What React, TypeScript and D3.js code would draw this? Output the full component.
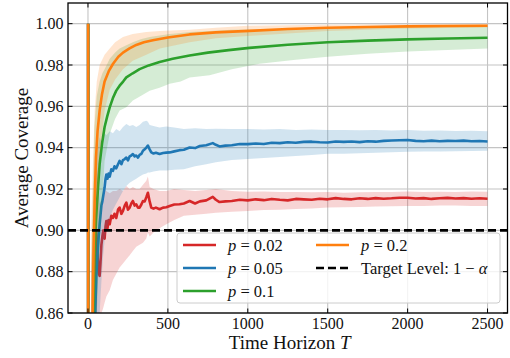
import React from 'react';
import * as d3 from 'd3';

// ---------- data ----------
const X_TICKS = [0, 500, 1000, 1500, 2000, 2500];
const Y_TICKS = [0.86, 0.88, 0.9, 0.92, 0.94, 0.96, 0.98, 1.0];
const TARGET = 0.9;

const TIME_FINE = [1,2,10,20,30,40,46,52,57,62,68,73,78,84,90,96,104,110,115,122,129,136,146,156,166,177,188,198,209,219,230,240,250,261,271,281,292,302,313,323,334,344,355,365,375,386,396,410,425,448,470,490,511,540,573,600,636,670,700,740,781,800,823,860,900,950,1000,1050,1100,1150,1200,1250,1300,1350,1400,1450,1500,1550,1600,1650,1700,1750,1800,1850,1900,1950,2000,2050,2100,2150,2200,2250,2300,2350,2400,2450,2500];

const RED_MEAN = [1.0,0.5,0.62,0.74,0.80,0.845,0.87,0.899,0.893,0.885,
  0.879,0.878,0.884,0.893,0.897,0.900,0.896,0.902,0.9045,0.901,
  0.905,0.903,0.907,0.906,0.908,0.906,0.910,0.911,0.908,0.9094,
  0.912,0.9134,0.910,0.911,0.913,0.9142,0.912,0.9126,0.911,0.911,
  0.9125,0.9142,0.914,0.916,0.9182,0.914,0.911,0.9105,0.911,0.9102,
  0.911,0.9112,0.9118,0.9125,0.9126,0.913,0.9142,0.913,0.914,0.9145,
  0.9162,0.9148,0.9137,0.914,0.9142,0.9148,0.9145,0.915,0.9146,0.9152,
  0.9148,0.9145,0.9152,0.915,0.9148,0.9153,0.915,0.9156,0.9152,0.915,
  0.9155,0.9152,0.9156,0.9153,0.9155,0.9158,0.9158,0.9154,0.9156,0.9152,
  0.9155,0.9157,0.9154,0.9156,0.9153,0.9155,0.9153];

const BLUE_MEAN = [1.0,0.5,0.64,0.74,0.80,0.845,0.862,0.877,0.885,0.891,
  0.898,0.903,0.907,0.912,0.914,0.917,0.9207,0.925,0.927,0.925,
  0.9275,0.926,0.9295,0.9288,0.931,0.930,0.932,0.9336,0.932,0.934,
  0.9345,0.9352,0.9338,0.9358,0.9362,0.9369,0.9358,0.9362,0.9352,0.9365,
  0.937,0.9385,0.9392,0.940,0.941,0.9392,0.9377,0.9372,0.9375,0.9369,
  0.9374,0.9376,0.9377,0.9382,0.9388,0.939,0.9401,0.9398,0.9408,0.9412,
  0.9422,0.9414,0.9406,0.941,0.9412,0.9418,0.9417,0.942,0.9418,0.9424,
  0.9422,0.9426,0.9424,0.9428,0.9429,0.9426,0.9425,0.943,0.9428,0.943,
  0.9427,0.9431,0.9429,0.9433,0.9435,0.9436,0.9437,0.9433,0.9431,0.9434,
  0.9431,0.9433,0.9432,0.9434,0.9431,0.9432,0.943];

const TIME_BAND = [1,2,20,40,52,62,73,84,94,104,115,136,156,177,198,219,240,261,281,302,323,344,365,375,386,410,448,490,540,600,670,740,800,900,1000,1100,1200,1300,1400,1500,1600,1700,1800,1900,2000,2100,2200,2300,2400,2500];

const RED_LO = [1.0,0.4,0.6,0.75,0.80,0.83,0.845,0.86,0.862,0.865,
  0.868,0.871,0.876,0.879,0.882,0.884,0.886,0.888,0.890,0.892,
  0.893,0.894,0.896,0.899,0.897,0.899,0.901,0.903,0.905,0.907,
  0.9075,0.908,0.9085,0.909,0.9094,0.9098,0.910,0.9103,0.9106,0.911,
  0.9112,0.9113,0.9115,0.9116,0.9118,0.9118,0.912,0.912,0.9118,0.9118];
const RED_HI = [1.0,0.6,0.88,0.92,0.935,0.925,0.913,0.915,0.918,0.92,
  0.919,0.918,0.919,0.919,0.92,0.919,0.9215,0.92,0.921,0.92,
  0.92,0.922,0.924,0.926,0.921,0.92,0.919,0.919,0.92,0.9195,
  0.919,0.9195,0.92,0.919,0.9187,0.9188,0.9185,0.9186,0.9184,0.9185,
  0.9182,0.9184,0.9186,0.9185,0.9188,0.9186,0.9187,0.9186,0.9188,0.9187];

const BLUE_LO = [1.0,0.4,0.63,0.77,0.81,0.84,0.86,0.875,0.887,0.895,
  0.90,0.906,0.910,0.913,0.916,0.919,0.9215,0.923,0.924,0.925,
  0.926,0.927,0.9275,0.928,0.928,0.9285,0.929,0.929,0.9293,0.9296,
  0.931,0.932,0.933,0.934,0.9345,0.935,0.9355,0.936,0.9365,0.937,
  0.937,0.9373,0.9376,0.9378,0.938,0.9381,0.9382,0.9383,0.9384,0.9385];
const BLUE_HI = [1.0,0.6,0.85,0.91,0.935,0.94,0.945,0.943,0.946,0.947,
  0.946,0.948,0.947,0.949,0.948,0.950,0.9515,0.9505,0.951,0.950,
  0.951,0.9525,0.953,0.9525,0.951,0.9505,0.9498,0.9502,0.9498,0.949,
  0.9494,0.949,0.9492,0.949,0.949,0.9488,0.949,0.9486,0.9488,0.9485,
  0.9486,0.9484,0.9486,0.9483,0.9485,0.9482,0.9483,0.9481,0.9482,0.948];

const TIME_GREEN = [1,2,10,20,28,33,40,50,63,73,88,104,120,136,156,177,198,220,240,280,323,380,448,530,636,750,880,1010,1250,1500,1750,2000,2250,2500];
const GREEN_MEAN = [1.0,0.5,0.62,0.75,0.83,0.86,0.885,0.905,0.921,0.932,
  0.942,0.95,0.955,0.9595,0.964,0.9676,0.970,0.972,0.974,0.976,
  0.978,0.9798,0.9814,0.983,0.9846,0.986,0.9872,0.9883,0.9898,0.991,
  0.9918,0.9924,0.9928,0.9932];
const TIME_GREEN_BAND = [1,2,20,40,55,73,90,104,136,170,198,240,281,330,386,448,511,580,636,761,900,1073,1300,1500,1750,2000,2250,2500];
const GREEN_LO = [1.0,0.4,0.6,0.80,0.86,0.895,0.915,0.9336,0.9467,0.954,
  0.958,0.9595,0.9628,0.965,0.9676,0.969,0.9709,0.972,0.974,0.975,
  0.978,0.9806,0.9825,0.984,0.9855,0.9865,0.9872,0.988];
const GREEN_HI = [1.0,0.6,0.88,0.95,0.965,0.972,0.976,0.978,0.983,0.986,
  0.988,0.9895,0.991,0.9925,0.9935,0.9943,0.995,0.9955,0.996,0.9965,
  0.997,0.9972,0.9976,0.998,0.9982,0.9984,0.9985,0.9987];

const TIME_ORANGE = [1,2,10,20,28,35,42,50,60,73,88,104,130,157,190,219,260,302,350,406,500,636,800,1010,1250,1500,1750,2000,2250,2500];
const ORANGE_MEAN = [1.0,0.5,0.70,0.80,0.855,0.89,0.915,0.935,0.948,0.958,
  0.966,0.972,0.977,0.9806,0.984,0.986,0.988,0.9897,0.991,0.992,
  0.9933,0.9948,0.9958,0.9965,0.9974,0.998,0.9984,0.9987,0.9989,0.999];
const TIME_ORANGE_BAND = [1,2,20,30,42,55,73,104,136,170,219,280,365,450,636,800,1000,1500,2000,2500];
const ORANGE_HI = [1.0,0.6,0.9,0.93,0.958,0.972,0.98,0.985,0.988,0.991,
  0.9935,0.995,0.996,0.9965,0.997,0.998,0.999,0.9995,0.9997,0.9998];
const ORANGE_LO = [1.0,0.4,0.70,0.78,0.87,0.90,0.935,0.958,0.968,0.973,
  0.978,0.982,0.985,0.988,0.991,0.993,0.994,0.9965,0.9977,0.9982];

const P_LABELS = ['0.02', '0.05', '0.1', '0.2'];
const COLORS = ['#d62728', '#1f77b4', '#2ca02c', '#ff7f0e'];

const SERIES = [
  { p: P_LABELS[0], color: COLORS[0], t: TIME_FINE, mean: RED_MEAN, bt: TIME_BAND, lo: RED_LO, hi: RED_HI },
  { p: P_LABELS[1], color: COLORS[1], t: TIME_FINE, mean: BLUE_MEAN, bt: TIME_BAND, lo: BLUE_LO, hi: BLUE_HI },
  { p: P_LABELS[2], color: COLORS[2], t: TIME_GREEN, mean: GREEN_MEAN, bt: TIME_GREEN_BAND, lo: GREEN_LO, hi: GREEN_HI },
  { p: P_LABELS[3], color: COLORS[3], t: TIME_ORANGE, mean: ORANGE_MEAN, bt: TIME_ORANGE_BAND, lo: ORANGE_LO, hi: ORANGE_HI },
];

// ---------- layout ----------
const W = 510, H = 358;
const L = 68, R = 507.5, T = 3, B = 313;
const FONT = '"Liberation Serif"';

export default function App() {
  const x = d3.scaleLinear().domain([-125, 2625]).range([L, R]);
  const y = d3.scaleLinear().domain([0.86, 1.01]).range([B, T]);

  const line = (ts: number[], vs: number[]) =>
    d3.line<number>().x((_, i) => x(ts[i])).y((v) => y(v))(vs) || '';
  const area = (ts: number[], lo: number[], hi: number[]) =>
    d3.area<number>().x((_, i) => x(ts[i])).y0((_, i) => y(lo[i])).y1((_, i) => y(hi[i]))(ts) || '';

  const tickLen = 4.5;
  const legendRows = [
    { kind: 's', idx: 0, col: 0, row: 0 },
    { kind: 's', idx: 1, col: 0, row: 1 },
    { kind: 's', idx: 2, col: 0, row: 2 },
    { kind: 's', idx: 3, col: 1, row: 0 },
    { kind: 't', idx: -1, col: 1, row: 1 },
  ];
  const lgX = 177, lgY = 233, lgW = 323, lgH = 70;
  const colX = [183, 316];
  const rowY = [245, 268, 291];
  const txt: React.CSSProperties = { fontFamily: FONT };

  return (
    <svg width={W} height={H} style={{ position: 'absolute', left: 0, top: 0, background: '#fff', fontFamily: FONT }}>
      <defs>
        <clipPath id="plot"><rect x={L} y={T} width={R - L} height={B - T} /></clipPath>
      </defs>
      <rect x={0} y={0} width={W} height={H} fill="#fff" />
      {/* grid */}
      <g stroke="#c4c4c4" strokeWidth={1.1}>
        {X_TICKS.map((t) => <line key={'gx' + t} x1={x(t)} x2={x(t)} y1={T} y2={B} />)}
        {Y_TICKS.map((t) => <line key={'gy' + t} x1={L} x2={R} y1={y(t)} y2={y(t)} />)}
      </g>
      <g clipPath="url(#plot)">
        {SERIES.map((s) => (
          <g key={s.p}>
            <path d={area(s.bt, s.lo, s.hi)} fill={s.color} fillOpacity={0.2} stroke="none" />
            <path d={line(s.t, s.mean)} fill="none" stroke={s.color} strokeWidth={2.6} strokeLinejoin="round" />
          </g>
        ))}
        <line x1={L} x2={R} y1={y(TARGET)} y2={y(TARGET)} stroke="#000" strokeWidth={2.6} strokeDasharray="8,4" />
      </g>
      {/* spines */}
      <rect x={L} y={T} width={R - L} height={B - T} fill="none" stroke="#000" strokeWidth={1.3} />
      {/* ticks */}
      <g stroke="#000" strokeWidth={1}>
        {X_TICKS.map((t) => (
          <g key={'tx' + t}>
            <line x1={x(t)} x2={x(t)} y1={B} y2={B - tickLen} />
            <line x1={x(t)} x2={x(t)} y1={T} y2={T + tickLen} />
          </g>
        ))}
        {Y_TICKS.map((t) => (
          <g key={'ty' + t}>
            <line x1={L} x2={L + tickLen} y1={y(t)} y2={y(t)} />
            <line x1={R} x2={R - tickLen} y1={y(t)} y2={y(t)} />
          </g>
        ))}
      </g>
      {/* tick labels */}
      <g fontSize={16} fill="#111">
        {X_TICKS.map((t) => (
          <text key={'lx' + t} style={txt} x={x(t)} y={329} textAnchor="middle">{t}</text>
        ))}
        {Y_TICKS.map((t) => (
          <text key={'ly' + t} style={txt} x={63.5} y={y(t) + 5.5} textAnchor="end">{t.toFixed(2)}</text>
        ))}
      </g>
      {/* axis labels */}
      <text style={txt} x={(L + R) / 2 + 2} y={348.5} fontSize={19} textAnchor="middle" fill="#111">
        Time Horizon <tspan fontStyle="italic">T</tspan>
      </text>
      <text style={txt} transform={`translate(28,${(T + B) / 2}) rotate(-90)`} fontSize={19} textAnchor="middle" fill="#111">
        Average Coverage
      </text>
      {/* legend */}
      <rect x={lgX} y={lgY} width={lgW} height={lgH} rx={3} fill="#fff" fillOpacity={0.8} stroke="#cccccc" strokeWidth={1} />
      {legendRows.map((r, i) => {
        const hx = colX[r.col];
        const cy = rowY[r.row];
        const isT = r.kind === 't';
        const color = isT ? '#000' : SERIES[r.idx].color;
        return (
          <g key={'lg' + i}>
            <line x1={hx} x2={hx + 33} y1={cy} y2={cy} stroke={color} strokeWidth={2.6}
              strokeDasharray={isT ? '8,4' : undefined} />
            <text style={txt} x={hx + 45} y={cy + 5.5} fontSize={16.5} fill="#111">
              {isT ? (
                <>Target Level: 1 − <tspan fontStyle="italic">α</tspan></>
              ) : (
                <><tspan fontStyle="italic">p</tspan> = {SERIES[r.idx].p}</>
              )}
            </text>
          </g>
        );
      })}
    </svg>
  );
}
